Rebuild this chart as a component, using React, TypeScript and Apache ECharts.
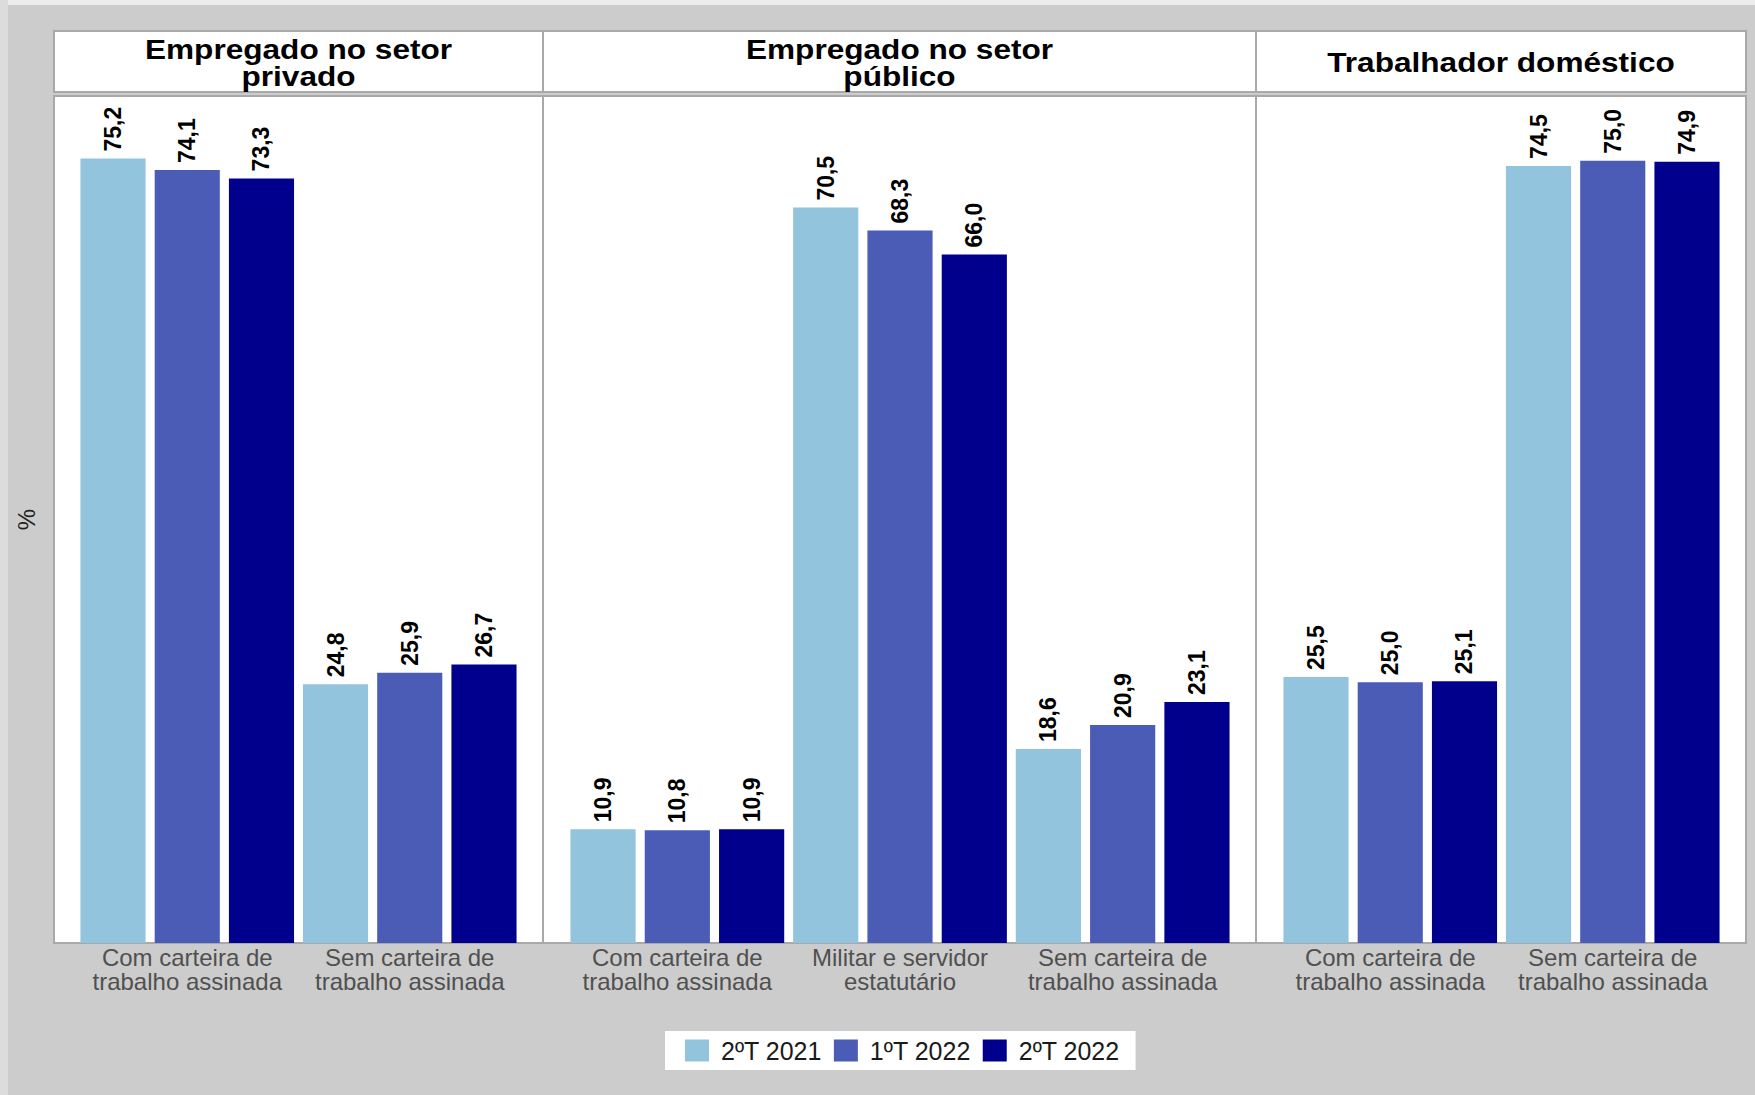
import React, { useEffect, useRef } from "react";
import * as echarts from "echarts";

// ---- Data ----
const periods = ["2ºT 2021", "1ºT 2022", "2ºT 2022"];
const periodColors = ["#92c4de", "#4a5cb6", "#00008c"];

const panelTitles = [
  "Empregado no setor\nprivado",
  "Empregado no setor\npúblico",
  "Trabalhador doméstico",
];

const catPrivado = ["Com carteira de\ntrabalho assinada", "Sem carteira de\ntrabalho assinada"];
const catPublico = [
  "Com carteira de\ntrabalho assinada",
  "Militar e servidor\nestatutário",
  "Sem carteira de\ntrabalho assinada",
];
const catDomestico = ["Com carteira de\ntrabalho assinada", "Sem carteira de\ntrabalho assinada"];

const privado2T2021 = [75.2, 24.8];
const privado1T2022 = [74.1, 25.9];
const privado2T2022 = [73.3, 26.7];

const publico2T2021 = [10.9, 70.5, 18.6];
const publico1T2022 = [10.8, 68.3, 20.9];
const publico2T2022 = [10.9, 66.0, 23.1];

const domestico2T2021 = [25.5, 74.5];
const domestico1T2022 = [25.0, 75.0];
const domestico2T2022 = [25.1, 74.9];

const yMax = 81.2;

// ---- Layout ----
const W = 1755;
const H = 1095;
const panels = [
  { x0: 54, x1: 543, gl: 76, gw: 445 },
  { x0: 543, x1: 1256, gl: 566, gw: 668 },
  { x0: 1256, x1: 1746, gl: 1279, gw: 445 },
];
const headerTop = 31;
const headerBottom = 92;
const plotTop = 96;
const plotBottom = 943;

export default function App() {
  const ref = useRef<HTMLDivElement>(null);

  useEffect(() => {
    document.body.style.margin = "0";
    if (!ref.current) return;
    const chart = echarts.init(ref.current, null, { renderer: "svg" });

    const cats = [catPrivado, catPublico, catDomestico];
    const values = [
      [privado2T2021, privado1T2022, privado2T2022],
      [publico2T2021, publico1T2022, publico2T2022],
      [domestico2T2021, domestico1T2022, domestico2T2022],
    ];

    const fmt = (v: number) => v.toFixed(1).replace(".", ",");

    const grids = panels.map((p) => ({
      left: p.gl,
      width: p.gw,
      top: plotTop,
      height: plotBottom - plotTop,
      containLabel: false,
    }));

    const xAxes = cats.map((c, i) => ({
      type: "category",
      gridIndex: i,
      data: c,
      axisLine: { show: false },
      axisTick: { show: false },
      axisLabel: {
        interval: 0,
        color: "#505050",
        fontFamily: "Liberation Sans, Arial, sans-serif",
        fontSize: 24,
        lineHeight: 24,
        margin: 2,
      },
    }));

    const yAxes = cats.map((_, i) => ({
      type: "value",
      gridIndex: i,
      min: 0,
      max: yMax,
      axisLine: { show: false },
      axisTick: { show: false },
      axisLabel: { show: false },
      splitLine: { show: false },
      name: i === 0 ? "%" : "",
      nameLocation: "middle",
      nameRotate: 90,
      nameGap: 38,
      nameTextStyle: {
        fontSize: 24,
        color: "#222",
        fontFamily: "Liberation Sans, Arial, sans-serif",
      },
    }));

    const series: any[] = [];
    values.forEach((panelVals, pi) => {
      panelVals.forEach((vals, si) => {
        series.push({
          type: "bar",
          name: periods[si],
          xAxisIndex: pi,
          yAxisIndex: pi,
          data: vals,
          barGap: "14%",
          barCategoryGap: "4%",
          itemStyle: { color: periodColors[si] },
          label: {
            show: true,
            position: "top",
            rotate: 90,
            align: "left",
            verticalAlign: "middle",
            distance: 7,
            formatter: (p: any) => fmt(p.value),
            color: "#000",
            fontWeight: "bold",
            fontSize: 23,
            fontFamily: "Liberation Sans, Arial, sans-serif",
          },
        });
      });
    });

    const graphics: any[] = [
      { type: "rect", z: -20, shape: { x: 0, y: 0, width: W, height: 5 }, style: { fill: "#ececec" } },
      { type: "rect", z: -20, shape: { x: 0, y: 0, width: 8, height: H }, style: { fill: "#dcdcdc" } },
    ];
    panels.forEach((p, i) => {
      graphics.push({
        type: "rect",
        z: -10,
        shape: { x: p.x0, y: headerTop, width: p.x1 - p.x0, height: headerBottom - headerTop },
        style: { fill: "#ffffff", stroke: "#a9a9a9", lineWidth: 2 },
      });
      graphics.push({
        type: "rect",
        z: -10,
        shape: { x: p.x0, y: plotTop, width: p.x1 - p.x0, height: plotBottom - plotTop },
        style: { fill: "#ffffff", stroke: "#a9a9a9", lineWidth: 2 },
      });
      graphics.push({
        type: "text",
        z: 5,
        x: (p.x0 + p.x1) / 2,
        y: (headerTop + headerBottom) / 2 + 1,
        scaleX: 1.17,
        style: {
          text: panelTitles[i],
          fill: "#000",
          fontSize: 27,
          fontWeight: "bold",
          fontFamily: "Liberation Sans, Arial, sans-serif",
          align: "center",
          verticalAlign: "middle",
          lineHeight: 27,
        },
      });
    });

    chart.setOption({
      animation: false,
      backgroundColor: "#cccccc",
      grid: grids,
      xAxis: xAxes,
      yAxis: yAxes,
      series,
      graphic: graphics,
      legend: {
        data: periods,
        left: 665,
        top: 1031,
        padding: [7, 16, 7, 20],
        backgroundColor: "#ffffff",
        itemWidth: 24,
        itemHeight: 22,
        itemGap: 12,
        icon: "rect",
        textStyle: {
          fontSize: 25,
          color: "#1a1a1a",
          fontFamily: "Liberation Sans, Arial, sans-serif",
          padding: [0, 0, 0, 7],
        },
      },
    });

    return () => chart.dispose();
  }, []);

  return (
    <div
      ref={ref}
      style={{ position: "absolute", left: 0, top: 0, width: W, height: H }}
    />
  );
}
